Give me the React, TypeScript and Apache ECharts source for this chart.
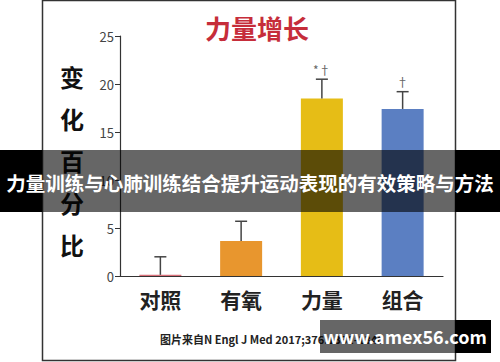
import React, { useEffect, useRef } from "react";
import * as echarts from "echarts";

const categories = ["对照", "有氧", "力量", "组合"];
const means = [0.12, 3.65, 18.5, 17.4];
const errorTops = [2.0, 5.7, 20.5, 19.2];
const marks = ["", "", "*†", "†"];
const barColors = ["#d9707a", "#e8962e", "#e6bd16", "#5b7fc2"];
const yTicks = { min: 0, max: 25, interval: 5 };
const axisNameChars = ["变", "化", "百", "分", "比"];

const FONT = "'Noto Sans CJK SC', 'Noto Sans', sans-serif";

export default function App() {
  const ref = useRef<HTMLDivElement>(null);

  useEffect(() => {
    if (!ref.current) return;
    const chart = echarts.init(ref.current, null, { renderer: "svg" });

    const nameTexts = axisNameChars.map((ch, i) => ({
      type: "text",
      z: 10,
      style: {
        x: 72,
        y: 76 + i * 42,
        text: ch,
        fill: "#111",
        font: `bold 24px ${FONT}`,
        align: "center",
        verticalAlign: "middle",
      },
    }));

    chart.setOption({
      animation: false,
      backgroundColor: "#ffffff",
      grid: { left: 120, right: 57, top: 36, bottom: 86 },
      xAxis: {
        type: "category",
        data: categories,
        axisTick: { show: false },
        axisLine: { lineStyle: { color: "#333", width: 1.2 } },
        axisLabel: {
          margin: 12,
          fontSize: 21,
          fontWeight: "bold",
          color: "#222",
          fontFamily: FONT,
        },
      },
      yAxis: {
        type: "value",
        min: yTicks.min,
        max: yTicks.max,
        interval: yTicks.interval,
        splitLine: { show: false },
        axisLine: { show: true, lineStyle: { color: "#333", width: 1.2 } },
        axisTick: { show: true, length: 5, lineStyle: { color: "#333" } },
        axisLabel: { fontSize: 13, color: "#444", margin: 6, fontFamily: FONT },
      },
      series: [
        {
          type: "bar",
          barWidth: 42,
          data: means.map((v, i) => ({ value: v, itemStyle: { color: barColors[i] } })),
          z: 2,
        },
        {
          type: "custom",
          z: 3,
          data: categories.map((_, i) => [i, means[i], errorTops[i]]),
          renderItem: (params: any, api: any) => {
            const idx = api.value(0);
            const base = api.coord([idx, api.value(1)]);
            const top = api.coord([idx, api.value(2)]);
            const half = 6;
            const style = { stroke: "#444", lineWidth: 1.5 };
            const children: any[] = [
              { type: "line", shape: { x1: base[0], y1: base[1], x2: top[0], y2: top[1] }, style },
              { type: "line", shape: { x1: top[0] - half, y1: top[1], x2: top[0] + half, y2: top[1] }, style },
            ];
            const m = marks[params.dataIndex];
            if (m) {
              children.push({
                type: "text",
                style: {
                  x: top[0],
                  y: top[1] - 4,
                  text: m,
                  fill: "#666",
                  font: `12px ${FONT}`,
                  align: "center",
                  verticalAlign: "bottom",
                },
              });
            }
            return { type: "group", children };
          },
        },
      ],
      graphic: [
        {
          type: "rect",
          z: 1,
          shape: { x: 42.5, y: 0.5, width: 413, height: 360 },
          style: { fill: "none", stroke: "#333", lineWidth: 1.5 },
        },
        {
          type: "text",
          z: 10,
          style: {
            x: 257,
            y: 27,
            text: "力量增长",
            fill: "#c62d3a",
            font: `bold 26px ${FONT}`,
            align: "center",
            verticalAlign: "middle",
          },
        },
        ...nameTexts,
        {
          type: "text",
          z: 10,
          style: {
            x: 160,
            y: 339,
            text: "图片来自N Engl J Med 2017;376:1331-1340",
            fill: "#222",
            font: `bold 11px ${FONT}`,
            align: "left",
            verticalAlign: "middle",
          },
        },
        // banner across the middle
        { type: "rect", z: 50, shape: { x: 0, y: 150, width: 42, height: 62 }, style: { fill: "#000" } },
        { type: "rect", z: 50, shape: { x: 455, y: 150, width: 45, height: 62 }, style: { fill: "#000" } },
        { type: "rect", z: 50, shape: { x: 42, y: 150, width: 413, height: 62 }, style: { fill: "rgba(0,0,0,0.6)" } },
        {
          type: "text",
          z: 60,
          style: {
            x: 250,
            y: 182,
            text: "力量训练与心肺训练结合提升运动表现的有效策略与方法",
            fill: "#fff",
            font: `bold 19.5px ${FONT}`,
            align: "center",
            verticalAlign: "middle",
          },
        },
        // watermark box
        { type: "rect", z: 50, shape: { x: 320, y: 320, width: 135, height: 33 }, style: { fill: "rgba(0,0,0,0.6)" } },
        { type: "rect", z: 50, shape: { x: 455, y: 320, width: 36, height: 33 }, style: { fill: "#000" } },
        {
          type: "text",
          z: 60,
          style: {
            x: 405,
            y: 336,
            text: "www.amex56.com",
            fill: "#fff",
            font: `bold 18px ${FONT}`,
            align: "center",
            verticalAlign: "middle",
          },
        },
      ],
    });

    return () => chart.dispose();
  }, []);

  return (
    <div
      ref={ref}
      style={{ position: "fixed", left: 0, top: 0, width: 500, height: 362 }}
    />
  );
}
